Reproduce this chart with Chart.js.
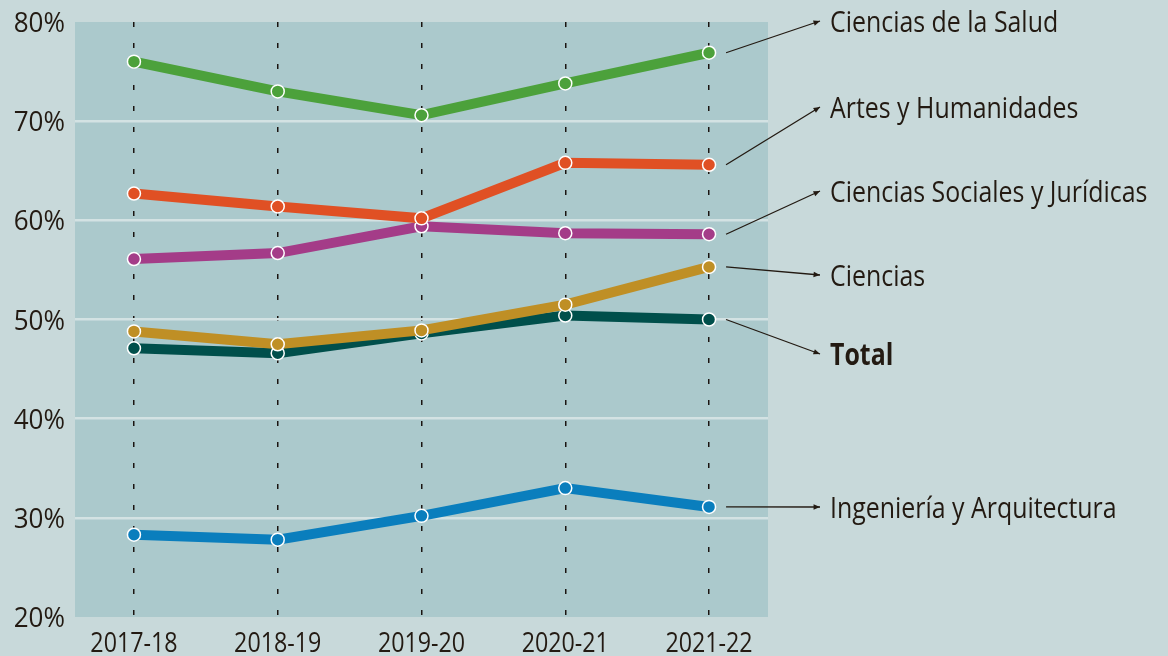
<!DOCTYPE html>
<html>
<head>
<meta charset="utf-8">
<script src="https://cdn.jsdelivr.net/npm/chart.js@4/dist/chart.umd.min.js"></script>
<style>
  html, body { margin: 0; padding: 0; background: #c8d9da; overflow: hidden; }
  #wrap { width: 1168px; height: 656px; position: relative; }
</style>
</head>
<body>
<div id="wrap"><canvas id="chart"></canvas></div>
<script>
// Datos
const categorias = ['2017-18', '2018-19', '2019-20', '2020-21', '2021-22'];
const nombres = ['Ciencias de la Salud', 'Artes y Humanidades', 'Ciencias Sociales y Jurídicas', 'Ciencias', 'Total', 'Ingeniería y Arquitectura'];
const salud = [76.0, 73.0, 70.6, 73.8, 76.9];
const artes = [62.7, 61.4, 60.2, 65.8, 65.6];
const sociales = [56.1, 56.7, 59.4, 58.7, 58.6];
const ciencias = [48.8, 47.5, 48.9, 51.5, 55.3];
const total = [47.1, 46.6, 48.6, 50.4, 50.0];
const ingenieria = [28.3, 27.8, 30.2, 33.0, 31.1];
const yTicks = [20, 30, 40, 50, 60, 70, 80];

// Estilos
const colores = ['#4ca13b', '#e05024', '#a43c88', '#bf8f25', '#004f4b', '#0a7ebd'];
const textoColor = '#231a12';
const fuente = "'Open Sans', sans-serif";
const etiquetaY = [21, 107, 191, 275, 354, 507];   // posicion vertical de cada etiqueta

const series = [salud, artes, sociales, ciencias, total, ingenieria];

const datasets = series.map((vals, i) => ({
    label: nombres[i],
    data: vals.map((v, j) => ({ x: j, y: v })),
    borderColor: colores[i],
    backgroundColor: colores[i],
    borderWidth: 10,
    pointRadius: 6.5,
    pointBorderWidth: 1.5,
    pointBorderColor: '#ffffff',
    pointBackgroundColor: colores[i],
    tension: 0
}));

// texto estrecho (la fuente original es condensada)
function textoEstrecho(ctx, txt, x, y, escala, align) {
    ctx.save();
    ctx.translate(x, y);
    ctx.scale(escala, 1);
    ctx.textAlign = align;
    ctx.textBaseline = 'alphabetic';
    ctx.fillText(txt, 0, 0);
    ctx.restore();
}

// Fondo del area de trazado
const fondoPlugin = {
    id: 'fondo',
    beforeDraw(chart) {
        const { ctx, chartArea: a } = chart;
        ctx.save();
        ctx.fillStyle = '#abc9cc';
        ctx.fillRect(a.left, a.top, a.right - a.left, a.bottom - a.top);
        ctx.restore();
    }
};

// Ticks de los ejes
const ticksPlugin = {
    id: 'ticks',
    afterDraw(chart) {
        const { ctx, scales } = chart;
        ctx.save();
        ctx.fillStyle = textoColor;
        ctx.font = '28px ' + fuente;
        categorias.forEach((c, i) => {
            textoEstrecho(ctx, c, scales.x.getPixelForValue(i), 652, 0.83, 'center');
        });
        yTicks.forEach(v => {
            textoEstrecho(ctx, v + '%', 65, scales.y.getPixelForValue(v) + 10, 0.93, 'right');
        });
        ctx.restore();
    }
};

// Etiquetas con flechas a la derecha
const etiquetasPlugin = {
    id: 'etiquetas',
    afterDraw(chart) {
        const { ctx } = chart;
        ctx.save();
        chart.data.datasets.forEach((ds, i) => {
            const meta = chart.getDatasetMeta(i);
            const p = meta.data[meta.data.length - 1];
            const x0 = p.x + 17, y0 = p.y;
            const x1 = 820, y1 = etiquetaY[i];
            ctx.strokeStyle = textoColor;
            ctx.fillStyle = textoColor;
            ctx.lineWidth = 1.3;
            ctx.beginPath();
            ctx.moveTo(x0, y0);
            ctx.lineTo(x1, y1);
            ctx.stroke();
            const ang = Math.atan2(y1 - y0, x1 - x0);
            ctx.beginPath();
            ctx.moveTo(x1, y1);
            ctx.lineTo(x1 - 7 * Math.cos(ang - 0.4), y1 - 7 * Math.sin(ang - 0.4));
            ctx.lineTo(x1 - 7 * Math.cos(ang + 0.4), y1 - 7 * Math.sin(ang + 0.4));
            ctx.closePath();
            ctx.fill();
            ctx.font = (ds.label === 'Total' ? 'bold ' : '') + '30px ' + fuente;
            textoEstrecho(ctx, ds.label, 830, y1 + 11, 0.83, 'left');
        });
        ctx.restore();
    }
};

const ctx = document.getElementById('chart').getContext('2d');
const myChart = new Chart(ctx, {
    type: 'line',
    data: { datasets },
    plugins: [fondoPlugin, ticksPlugin, etiquetasPlugin],
    options: {
        responsive: true,
        maintainAspectRatio: false,
        animation: false,
        layout: { padding: { top: 22, right: 400, left: 0, bottom: 0 } },
        plugins: { legend: { display: false }, tooltip: { enabled: false } },
        scales: {
            x: {
                type: 'linear',
                min: -0.41,
                max: 4.41,
                afterBuildTicks: s => { s.ticks = categorias.map((c, i) => ({ value: i })); },
                afterFit: s => { s.height = 39; },
                grid: { color: '#1a1410', lineWidth: 1.5, drawTicks: false },
                border: { display: false, dash: [5, 16] },
                ticks: { display: false }
            },
            y: {
                min: 20,
                max: 80,
                afterBuildTicks: s => { s.ticks = yTicks.map(v => ({ value: v })); },
                afterFit: s => { s.width = 75; },
                grid: {
                    color: c => (c.tick && (c.tick.value === 20 || c.tick.value === 80)) ? 'rgba(0,0,0,0)' : '#d3e2e3',
                    lineWidth: 2.5,
                    drawTicks: false
                },
                border: { display: false },
                ticks: { display: false }
            }
        }
    }
});
</script>
</body>
</html>
